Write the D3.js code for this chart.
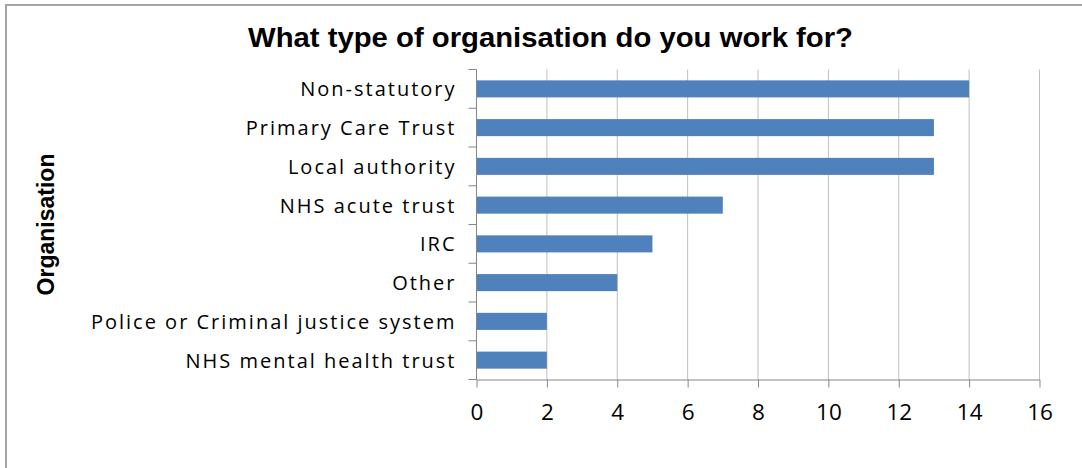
<!DOCTYPE html>
<html>
<head>
<meta charset="utf-8">
<script src="https://cdn.jsdelivr.net/npm/d3@7"></script>
<style>
  html, body { margin: 0; padding: 0; background: #fff; }
  svg { display: block; }
</style>
</head>
<body>
<svg id="chart" width="1082" height="468"></svg>
<script>
// Survey responses: organisation type of respondents
const categories = [
  "Non-statutory",
  "Primary Care Trust",
  "Local authority",
  "NHS acute trust",
  "IRC",
  "Other",
  "Police or Criminal justice system",
  "NHS mental health trust"
];
const counts = [14, 13, 13, 7, 5, 4, 2, 2];
const xTicks = [0, 2, 4, 6, 8, 10, 12, 14, 16];
const chartTitle = "What type of organisation do you work for?";
const yTitle = "Organisation";

const svg = d3.select("#chart");

// Outer chart-area frame (only top and left edges fall inside the view)
svg.append("rect")
  .attr("x", 6).attr("y", 5)
  .attr("width", 1200).attr("height", 600)
  .attr("fill", "none")
  .attr("stroke", "#a6a6a6")
  .attr("stroke-width", 2);

const plot = { left: 476.5, right: 1039.5, top: 69.5, bottom: 379.5 };

const x = d3.scaleLinear()
  .domain([0, 16])
  .range([plot.left, plot.right]);

const y = d3.scaleBand()
  .domain(categories)
  .range([plot.top, plot.bottom])
  .paddingInner(0.56)
  .paddingOuter(0.28);

// Vertical gridlines
svg.append("g")
  .selectAll("line")
  .data(xTicks.filter(d => d !== 0))
  .join("line")
  .attr("x1", d => x(d)).attr("x2", d => x(d))
  .attr("y1", plot.top).attr("y2", plot.bottom)
  .attr("stroke", "#bfbfbf")
  .attr("stroke-width", 1);

// Bars
const data = categories.map((c, i) => ({ c, v: counts[i] }));
svg.append("g")
  .selectAll("rect")
  .data(data)
  .join("rect")
  .attr("x", x(0))
  .attr("y", d => y(d.c))
  .attr("width", d => x(d.v) - x(0))
  .attr("height", y.bandwidth())
  .attr("fill", "#4f81bd");

// X axis
const xAxis = svg.append("g")
  .attr("transform", `translate(0,${plot.bottom})`)
  .call(d3.axisBottom(x).tickValues(xTicks).tickSize(8).tickPadding(17).tickSizeOuter(0));
xAxis.select(".domain").attr("stroke", "#868686");
xAxis.selectAll(".tick line").attr("stroke", "#868686");
xAxis.selectAll(".tick text")
  .attr("fill", "#000")
  .style("font-family", "'Open Sans', sans-serif")
  .style("font-size", "22.5px");

// Y axis line with tick marks between categories
const yAxis = svg.append("g");
yAxis.append("line")
  .attr("x1", x(0)).attr("x2", x(0))
  .attr("y1", plot.top).attr("y2", plot.bottom)
  .attr("stroke", "#868686");
const step = y.step();
const boundaries = d3.range(categories.length + 1).map(i => plot.top + i * step);
yAxis.selectAll(".bt")
  .data(boundaries)
  .join("line")
  .attr("class", "bt")
  .attr("x1", x(0) - 8).attr("x2", x(0))
  .attr("y1", d => d).attr("y2", d => d)
  .attr("stroke", "#868686");

// Category labels
svg.append("g")
  .selectAll("text")
  .data(categories)
  .join("text")
  .attr("x", x(0) - 20)
  .attr("y", d => y(d) + y.bandwidth() / 2)
  .attr("dy", "0.38em")
  .attr("text-anchor", "end")
  .style("font-family", "'Open Sans', sans-serif")
  .style("font-size", "20px")
  .style("letter-spacing", "2px")
  .attr("fill", "#000")
  .text(d => d);

// Title
svg.append("text")
  .attr("x", 550.5)
  .attr("y", 46.5)
  .attr("text-anchor", "middle")
  .style("font-family", "'Liberation Sans', Arial, sans-serif")
  .style("font-weight", "bold")
  .style("font-size", "27px")
  .attr("textLength", 605)
  .attr("lengthAdjust", "spacingAndGlyphs")
  .text(chartTitle);

// Y axis title
svg.append("text")
  .attr("transform", `translate(54,${(plot.top + plot.bottom) / 2}) rotate(-90)`)
  .attr("text-anchor", "middle")
  .style("font-family", "'Liberation Sans', Arial, sans-serif")
  .style("font-weight", "bold")
  .style("font-size", "23px")
  .text(yTitle);
</script>
</body>
</html>
